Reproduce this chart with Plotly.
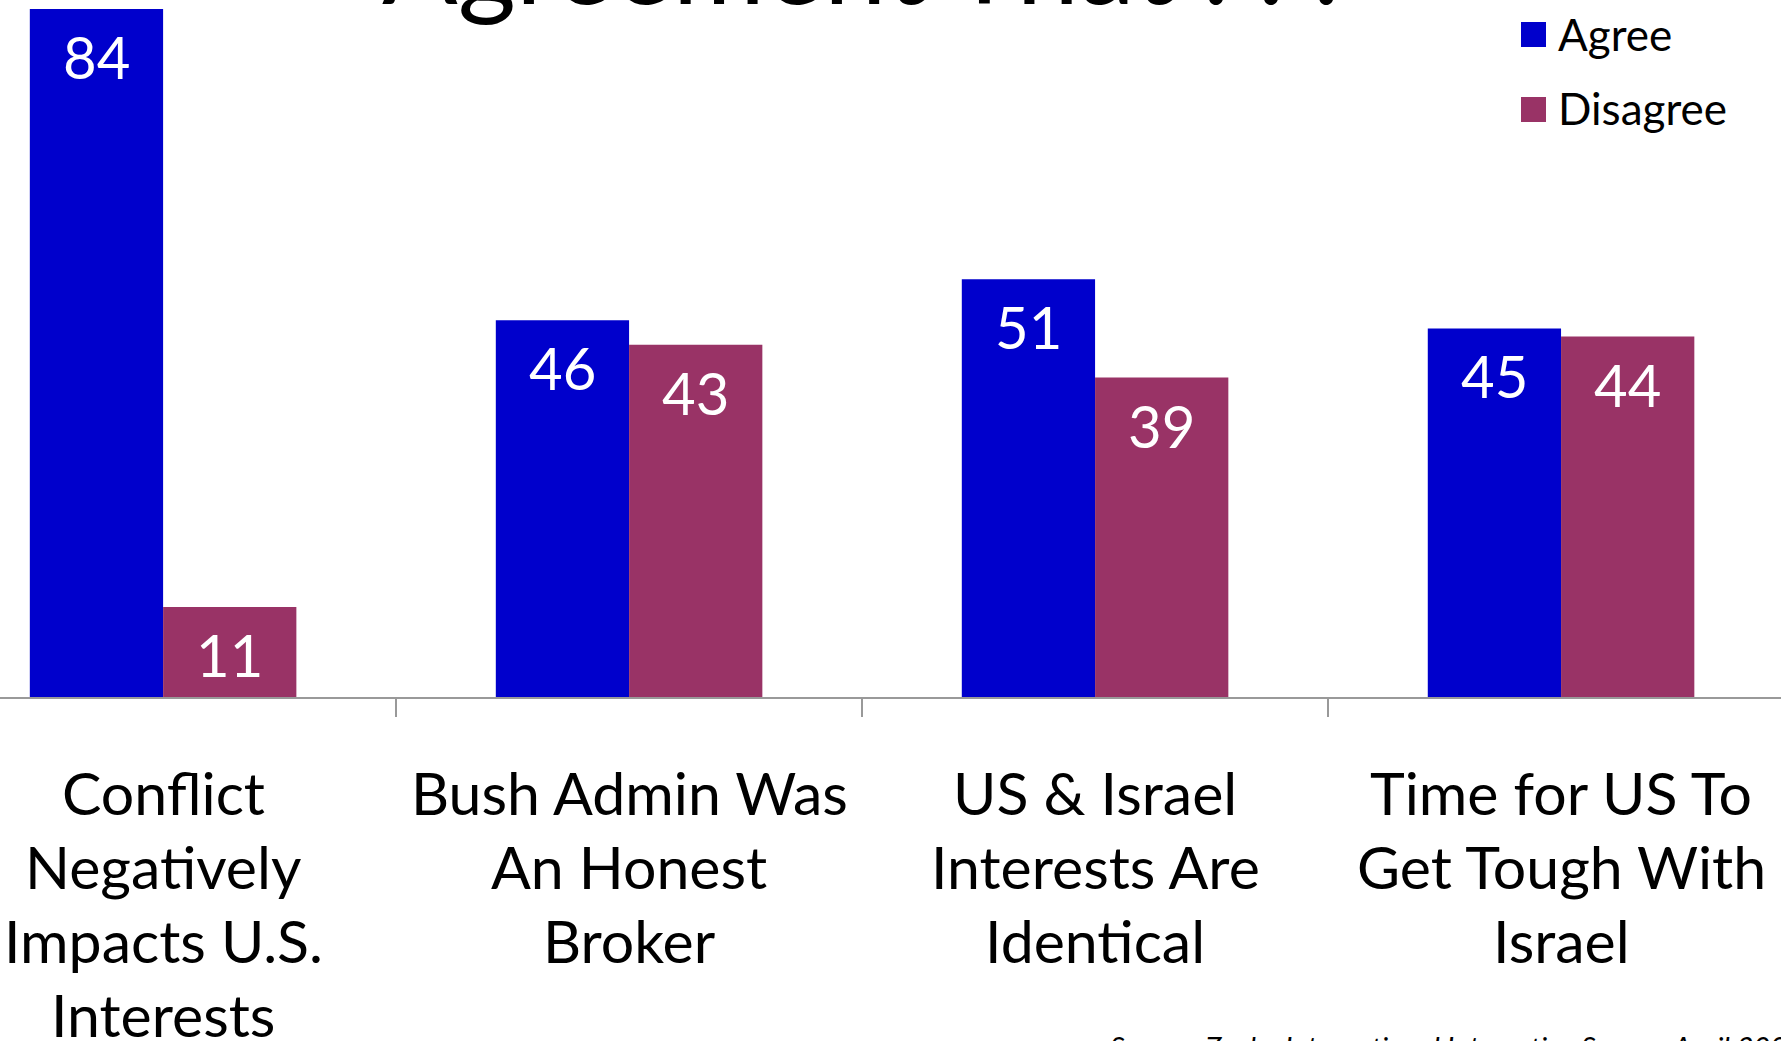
import plotly.graph_objects as go

categories = [
    "Conflict<br>Negatively<br>Impacts U.S.<br>Interests",
    "Bush Admin Was<br>An Honest<br>Broker",
    "US & Israel<br>Interests Are<br>Identical",
    "Time for US To<br>Get Tough With<br>Israel",
]
agree = [84, 46, 51, 45]
disagree = [11, 43, 39, 44]
series_names = ["Agree", "Disagree"]
title_text = "Agreement That . . ."
source_text = "Source: Zogby International Interactive Survey, April 2009"

BLUE = "#0000CC"
MAROON = "#993366"
FONT = "Lato"
W, H = 1781, 1041
PLOT_H = 697
BAR_W = 0.286

x_idx = list(range(len(categories)))
boundaries = [i + 0.5 for i in range(-1, len(categories))]

fig = go.Figure()
annotations = []
for k, (name, vals, col) in enumerate([(series_names[0], agree, BLUE),
                                        (series_names[1], disagree, MAROON)]):
    off = -BAR_W if k == 0 else 0.0
    fig.add_trace(go.Bar(
        x=x_idx, y=vals, name=name, marker=dict(color=col, line=dict(width=0)),
        offset=off, width=BAR_W, showlegend=False, hoverinfo="skip",
    ))
    for i, v in zip(x_idx, vals):
        annotations.append(dict(
            x=i + off + BAR_W / 2, y=v, xref="x", yref="y", text=str(v),
            showarrow=False, xanchor="center", yanchor="top", yshift=-11,
            font=dict(family=FONT, size=58, color="white"),
        ))

# category labels, one annotation per line for tight line spacing
for i, cat in enumerate(categories):
    for j, line in enumerate(cat.split("<br>")):
        annotations.append(dict(
            x=i, y=0, xref="x", yref="y", text=line, showarrow=False,
            xanchor="center", yanchor="middle", yshift=-(95 + 74 * j),
            font=dict(family=FONT, size=59, color="black"),
        ))

# legend
leg_cols = [BLUE, MAROON]
leg_y = [(22, 47), (97, 122)]
shapes = []
for name, col, (ya, yb) in zip(series_names, leg_cols, leg_y):
    shapes.append(dict(type="rect", xref="paper", yref="paper",
                       x0=1521 / W, x1=1546 / W, y0=1 - yb / PLOT_H, y1=1 - ya / PLOT_H,
                       fillcolor=col, line=dict(width=0)))
    annotations.append(dict(
        x=1556 / W, y=1 - ((ya + yb) / 2 - 1) / PLOT_H, xref="paper", yref="paper",
        text=name, showarrow=False, xanchor="left", yanchor="middle",
        font=dict(family=FONT, size=44, color="black"),
    ))

# title (cropped at top)
annotations.append(dict(
    x=860 / W, y=1 - 30 / PLOT_H, xref="paper", yref="paper", text=title_text,
    showarrow=False, xanchor="center", yanchor="bottom",
    font=dict(family=FONT, size=112, color="black"),
))
# source (cropped at bottom)
annotations.append(dict(
    x=1108 / W, y=1 - 1027 / PLOT_H, xref="paper", yref="paper",
    text="<i>" + source_text + "</i>", showarrow=False, xanchor="left", yanchor="top",
    font=dict(family=FONT, size=29, color="black"),
))

fig.update_layout(
    width=W, height=H, paper_bgcolor="white", plot_bgcolor="white",
    margin=dict(l=0, r=0, t=0, b=H - PLOT_H, pad=0),
    barmode="overlay", hovermode=False,
    showlegend=False, annotations=annotations, shapes=shapes,
    xaxis=dict(range=[-0.35, 3.472], showticklabels=False, showgrid=False, zeroline=False,
               showline=True, linecolor="#999999", linewidth=2,
               ticks="outside", ticklen=18, tickwidth=1.5,
               tickcolor="#999999", tickmode="array", tickvals=boundaries),
    yaxis=dict(range=[0, 85.1], visible=False, showgrid=False),
)

fig.write_html("out.html", config={"displayModeBar": False, "staticPlot": True},
               post_script="document.body.style.margin='0';document.body.style.overflow='hidden';")
